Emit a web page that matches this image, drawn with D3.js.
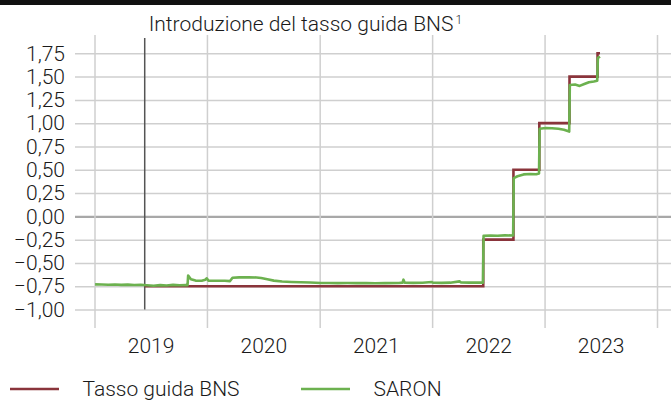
<!DOCTYPE html>
<html>
<head>
<meta charset="utf-8">
<script src="https://cdn.jsdelivr.net/npm/d3@7"></script>
<style>
  html, body { margin: 0; padding: 0; background: #fff; }
  svg { display: block; }
  text { font-family: Roboto, "Liberation Sans", sans-serif; fill: #1a1a1a; }
</style>
</head>
<body>
<svg id="chart" width="671" height="401"></svg>
<script>
// ---------- data ----------
const titleText = "Introduzione del tasso guida BNS";
const introDate = "2019-06-13";

const yTickValues = [-1, -0.75, -0.5, -0.25, 0, 0.25, 0.5, 0.75, 1, 1.25, 1.5, 1.75];
const yearBoundaries = ["2019-01-01", "2020-01-01", "2021-01-01", "2022-01-01", "2023-01-01", "2024-01-01"];
const yearLabelDates = ["2019-07-02", "2020-07-02", "2021-07-02", "2022-07-02", "2023-07-02"];

const seriesNames = ["Tasso guida BNS", "SARON"];

const policyDates = ["2019-06-13", "2022-06-16", "2022-09-22", "2022-12-15", "2023-03-23", "2023-06-22", "2023-06-30"];
const policyValues = [-0.75, -0.25, 0.50, 1.00, 1.50, 1.75, 1.75];

const saronDates = [
  "2019-01-03","2019-01-25","2019-02-15","2019-03-08","2019-03-29","2019-04-19","2019-05-10","2019-05-31",
  "2019-06-20","2019-07-12","2019-08-02","2019-08-23","2019-09-13","2019-10-04","2019-10-25","2019-10-30",
  "2019-11-01","2019-11-10","2019-11-25","2019-12-15","2019-12-27","2019-12-31","2020-01-06","2020-01-31",
  "2020-02-28","2020-03-16","2020-03-24","2020-04-15","2020-05-15","2020-06-10","2020-06-25","2020-07-15",
  "2020-08-05","2020-09-01","2020-10-01","2020-11-01","2020-12-01","2021-01-05","2021-02-01","2021-03-01",
  "2021-04-01","2021-05-01","2021-06-01","2021-07-01","2021-08-01","2021-09-15","2021-09-27","2021-09-30",
  "2021-10-04","2021-11-01","2021-12-01","2021-12-31","2022-01-04","2022-02-01","2022-03-01","2022-03-31",
  "2022-04-05","2022-05-01","2022-06-01","2022-06-15","2022-06-17","2022-07-10","2022-08-01","2022-08-25",
  "2022-09-21","2022-09-23","2022-10-05","2022-10-25","2022-11-15","2022-12-05","2022-12-14","2022-12-16",
  "2023-01-05","2023-01-25","2023-02-15","2023-03-05","2023-03-22","2023-03-24","2023-04-10","2023-04-25",
  "2023-05-10","2023-05-25","2023-06-10","2023-06-21","2023-06-23","2023-06-30"
];
const saronValues = [
  -0.730,-0.732,-0.735,-0.731,-0.736,-0.733,-0.737,-0.734,
  -0.740,-0.745,-0.738,-0.742,-0.736,-0.740,-0.738,-0.740,
  -0.635,-0.675,-0.690,-0.692,-0.680,-0.665,-0.690,-0.692,
  -0.692,-0.695,-0.660,-0.655,-0.655,-0.656,-0.662,-0.675,
  -0.690,-0.700,-0.705,-0.708,-0.710,-0.715,-0.716,-0.717,
  -0.716,-0.717,-0.716,-0.718,-0.717,-0.715,-0.712,-0.680,
  -0.712,-0.714,-0.713,-0.705,-0.713,-0.714,-0.712,-0.698,
  -0.710,-0.712,-0.710,-0.712,-0.210,-0.205,-0.208,-0.204,
  -0.206, 0.410, 0.430, 0.450, 0.455, 0.452, 0.460, 0.940,
   0.948, 0.945, 0.940, 0.930, 0.910, 1.410, 1.415, 1.400,
   1.420, 1.440, 1.448, 1.455, 1.700, 1.715
];

// ---------- setup ----------
const parse = d3.timeParse("%Y-%m-%d");
const svg = d3.select("#chart");
const W = 671, H = 401;
const FS = 21, FW = 300;

const x = d3.scaleTime()
  .domain([parse("2019-01-01"), parse("2024-01-01")])
  .range([94.5, 657]);
const y = d3.scaleLinear()
  .domain([-1, 1.75])
  .range([309.5, 53.3]);

svg.append("rect").attr("width", W).attr("height", H).attr("fill", "#fff");
// top black bar
svg.append("rect").attr("x", 0).attr("y", 0).attr("width", W).attr("height", 5).attr("fill", "#111");

// ---------- y grid + labels ----------
const fmt = v => {
  const s = Math.abs(v).toFixed(2).replace(".", ",");
  return v < 0 ? "\u2212" + s : s;
};
const yAxis = svg.append("g")
  .attr("transform", "translate(75,0)")
  .call(d3.axisLeft(y).tickValues(yTickValues).tickSize(-(W - 75)).tickPadding(10).tickFormat(fmt));
yAxis.select(".domain").remove();
yAxis.selectAll(".tick line").attr("stroke", "#cfcfcf").attr("stroke-width", 1.5);
yAxis.selectAll(".tick").filter(d => d === 0).select("line").attr("stroke", "#a8a8a8").attr("stroke-width", 2.2);
yAxis.selectAll(".tick text")
  .attr("font-size", FS).attr("font-weight", FW)
  .attr("font-family", "Roboto, sans-serif").attr("fill", "#111");

// ---------- x grid ----------
const xGrid = svg.append("g")
  .attr("transform", "translate(0,328)")
  .call(d3.axisBottom(x).tickValues(yearBoundaries.map(parse)).tickSize(-(328 - 35)).tickFormat(""));
xGrid.select(".domain").remove();
xGrid.selectAll(".tick line").attr("stroke", "#cfcfcf").attr("stroke-width", 1.5);

const xLab = svg.append("g")
  .attr("transform", "translate(0,328)")
  .call(d3.axisBottom(x).tickValues(yearLabelDates.map(parse)).tickSize(0).tickPadding(10).tickFormat(d3.timeFormat("%Y")));
xLab.select(".domain").remove();
xLab.selectAll(".tick text")
  .attr("font-size", FS).attr("font-weight", FW)
  .attr("font-family", "Roboto, sans-serif").attr("fill", "#111");

// ---------- intro line + title ----------
svg.append("line")
  .attr("x1", x(parse(introDate))).attr("x2", x(parse(introDate)))
  .attr("y1", 38).attr("y2", y(-1))
  .attr("stroke", "#555").attr("stroke-width", 1.5);

const title = svg.append("text")
  .attr("x", x(parse(introDate)) + 4).attr("y", 31)
  .attr("font-size", FS).attr("font-weight", FW).attr("fill", "#111");
title.append("tspan").text(titleText);
title.append("tspan").text("1").attr("font-size", 12).attr("dx", 2).attr("dy", -7);

// ---------- series ----------
const policy = policyDates.map((d, i) => ({ date: parse(d), value: policyValues[i] }));
const saron = saronDates.map((d, i) => ({ date: parse(d), value: saronValues[i] }));

const stepLine = d3.line().x(d => x(d.date)).y(d => y(d.value)).curve(d3.curveStepAfter);
const line = d3.line().x(d => x(d.date)).y(d => y(d.value));

const colors = ["#8a343b", "#6cb14f"];

svg.append("path").datum(policy)
  .attr("d", stepLine).attr("fill", "none")
  .attr("stroke", colors[0]).attr("stroke-width", 2.6);
svg.append("path").datum(saron)
  .attr("d", line).attr("fill", "none")
  .attr("stroke", colors[1]).attr("stroke-width", 2.6).attr("stroke-linejoin", "round");

// ---------- legend ----------
const legendX = [10, 301];
const leg = svg.append("g");
seriesNames.forEach((name, i) => {
  leg.append("line")
    .attr("x1", legendX[i]).attr("x2", legendX[i] + 49)
    .attr("y1", 389).attr("y2", 389)
    .attr("stroke", colors[i]).attr("stroke-width", 2.6);
  leg.append("text")
    .attr("x", legendX[i] + 72.5).attr("y", 395.5)
    .attr("font-size", FS).attr("font-weight", FW).attr("fill", "#111")
    .text(name);
});
</script>
</body>
</html>
